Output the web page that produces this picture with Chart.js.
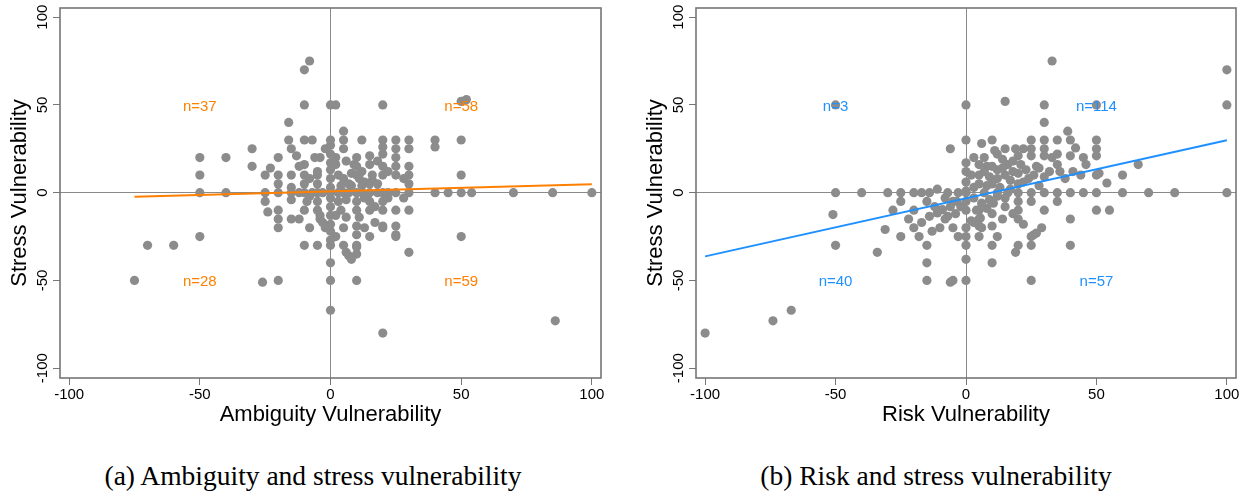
<!DOCTYPE html>
<html><head><meta charset="utf-8">
<script src="https://cdn.jsdelivr.net/npm/chart.js@4/dist/chart.umd.min.js"></script>
<style>
html,body{margin:0;padding:0;background:#fff;width:1248px;height:493px;overflow:hidden;position:relative}
canvas{position:absolute;top:0}
#c1{left:0}
#c2{left:636px}
.cap{position:absolute;top:460px;width:600px;font-family:"Liberation Serif","Times New Roman",serif;font-size:27.5px;line-height:32px;color:#000;text-align:center;white-space:nowrap}
</style></head><body>
<canvas id="c1" width="620" height="445"></canvas>
<canvas id="c2" width="612" height="445"></canvas>
<div class="cap" style="left:13px">(a) Ambiguity and stress vulnerability</div>
<div class="cap" style="left:636px">(b) Risk and stress vulnerability</div>
<script>
const xTicks = [-100, -50, 0, 50, 100];
const yTicks = [-100, -50, 0, 50, 100];

const ambX = [-75,-70,-60,-50,-50,-50,-50,-40,-40,-30,-30,-26,-20,-25,-23,-20,-20,-25,-25,-24,-20,-20,-20,-16,-16,-15,-13,-15,-15,-15,-15,-10,-8,-10,-10,-7,-10,-10,-5,0,
  2,20,0,5,5,12,20,20,25,25,30,30,40,40,50,50,52,50,30,30,30,40,45,50,54,70,85,100,25,30,
  50,86,20,0,0,0,10,30,0,5,10,6,8,10,25,25,20,20,-10,-10,-10,-6,-4,-5,0,0,0,0,0,0,
  -2,2,2,9,10,8,10,11,13,15,15,16,16,18,20,20,20,4,8,12,15,-20,-10,-5,0,3,5,7,10,12,
  15,18,20,22,25,30,-12,-7,-3,-9,-5,-5,-4,-3,-2,0,0,0,0,0,0,7,10,10,10,17,20,25,6,4,
  6,10,10,15,15,20,-4,2,11,3,5,2,-8,13,17,22,28,-5,5,3,5,7,12,18,22,25,25,25,-8,-12,
  -5,6,10,28,-20,-8,-12,13,15,-15];
const ambY = [-50,-30,-30,-25,20,10,0,20,0,25,15,-51,-50,10,14,20,10,0,-5,-11,-10,-15,-20,40,30,25,21,10,3,-4,0,70,75,50,30,30,-10,-30,-30,50,
  50,50,30,35,30,30,30,26,30,25,30,25,30,26,30,52,53,10,15,10,5,0,0,0,0,0,0,0,-10,-10,
  -25,-73,-80,-40,-50,-67,-50,-34,-30,-30,-30,-34,-38,-35,-24,-19,-19,-10,16,10,5,20,20,10,27,22,17,13,8,3,
  25,20,16,16,15,11,10,8,6,21,16,10,7,18,15,10,22,4,4,4,5,0,0,0,0,0,0,0,0,0,
  0,0,0,0,0,0,0,0,0,-5,-5,-10,-15,-17,-20,-3,-8,-13,-18,-22,-27,-36,-31,-19,-24,-17,-20,-25,-4,-10,
  -14,-5,-10,-5,-10,-5,-13,-13,-14,-5,-20,-25,-2,-3,-8,-3,-3,12,25,10,8,5,12,5,12,10,15,20,8,15,
  5,18,20,8,5,-20,-15,-20,-25,-15];

const riskX = [-100,-74,-67,-51,-50,-50,-50,-40,-30,-25,-25,-34,-31,-25,-20,-17,-20,-17,-14,-11,-15,-15,-15,-15,-14,-11,-9,-10,-7,-10.5,-6,-5,0,0,0,10,10,25,40,19,
  20,25,25,27,29,40,50,55,5,-5,0,0,0,5,5,14,20,20,25,30,35,-6,0,15,30,30,33,100,100,100,
  50,50,50,50,50,50,54,60,66,60,70,80,40,45,40,39,40,42,46,41,44,35,35,30,30,30,25,25,25,27,
  28,20,21,20,22,15,12,14,16,12,15,17,10,6,0,0,0,0,0,5,8,5,9,5,8,51,-7,-3,0,7,
  12,16,20,25,30,35,-2,-3.5,0,4,6,5.5,8,9,10.5,12,2,3,5,6,10,20,26,10,15,3,-5,-8,15,18,
  22,12,2,3,7,10,12,18,22,13,17,3,10,18,24,28,32,35,38,7,11,14,19,23,26,33,36,20,30,45,
  -20,-12,-22,-18,-8,-13,-4,-28,-6,-3];
const riskY = [-80,-73,-67,-12.5,-30,50,0,0,0,0,-5,-34,-21,-25,-20,-17,0,0,0,2,-5,-30,-40,-50,-13.5,-11.6,-9.7,-20,-13.5,-10,-51,-50,-50,-38,-30,-40,-30,-50,-30,-34,
  -30,-30,-25,-23,-20,-15,-10,-10,-25,-20,-20,-25,-10,-10,-15,-15,-15,-10,-5,-10,-5,25,50,52,50,40,75,70,50,0,
  50,30,25,21,10,0,5.5,10,16,0,0,0,0,0,21,35,30,25.5,16,12,10,30,16,30,21,9,30,25,21,15,
  14,21,16,11,6,25,22,19,16,13,10,7,30,28,30,17,12,6,1,16,15,10,9,5,4,11,0,0,0,0,
  0,0,0,0,0,0,-8,-5,-5,-10,-6,-14.5,-9,-4,-6,-2,-16,-17,-19,-20,-19,-5,-24,-12,-8,-3,-5,-3,-3,-12,
  -18,-25,10,20,20,5,8,12,25,3,2,3,15,18,8,4,12,22,8,12,24,14,25,13,10,20,12,5,25,20,
  -10,-8,-15,-25,-15,-22,-12,-10,-8,-25];

const ambFitX = [-75, 100];
const ambFitY = [-2.4, 4.8];
const riskFitX = [-100, 100];
const riskFitY = [-36.3, 29.8];

const quadX = [-50, 50, -50, 50];
const quadY = [49, 49, -51, -51];
const ambLabels = ['n=37', 'n=58', 'n=28', 'n=59'];
const riskLabels = ['n=3', 'n=114', 'n=40', 'n=57'];

const FONT = 'Liberation Sans';
const AXIS_GRAY = '#767676';

const framePlugin = {
  id: 'frame',
  beforeDatasetsDraw(chart) {
    const {ctx, chartArea: a} = chart;
    ctx.save();
    ctx.strokeStyle = AXIS_GRAY;
    ctx.lineWidth = 1.6;
    ctx.strokeRect(a.left, a.top, a.right - a.left, a.bottom - a.top);
    ctx.restore();
  }
};
const quadPlugin = {
  id: 'quad',
  afterDatasetsDraw(chart, args, opts) {
    const {ctx, scales: {x, y}} = chart;
    ctx.save();
    ctx.font = '15px "' + FONT + '"';
    ctx.fillStyle = opts.color;
    ctx.textAlign = 'center';
    ctx.textBaseline = 'middle';
    opts.labels.forEach((t, i) => ctx.fillText(t, x.getPixelForValue(quadX[i]), y.getPixelForValue(quadY[i])));
    ctx.restore();
  }
};

function makeChart(id, xs, ys, fx, fy, color, labels, xTitle, padRight) {
  const gridColor = c => (c.tick && c.tick.value === 0) ? '#8a8a8a' : 'rgba(0,0,0,0)';
  return new Chart(document.getElementById(id), {
    type: 'scatter',
    data: {
      datasets: [
        {type: 'line', data: fx.map((v, i) => ({x: v, y: fy[i]})), borderColor: color, borderWidth: 2,
         pointRadius: 0, fill: false, order: 0},
        {data: xs.map((v, i) => ({x: v, y: ys[i]})), backgroundColor: '#8c8c8c', borderWidth: 0,
         pointRadius: 4.6, pointHoverRadius: 4.6, order: 1}
      ]
    },
    options: {
      responsive: false, animation: false, devicePixelRatio: 1,
      layout: {padding: {left: 0, top: 8, right: padRight, bottom: 0}},
      plugins: {legend: {display: false}, tooltip: {enabled: false}, quad: {labels: labels, color: color}},
      scales: {
        x: {
          type: 'linear', min: -103.5, max: 103.5,
          afterBuildTicks: s => { s.ticks = xTicks.map(v => ({value: v})); },
          afterFit: s => { s.height = 67; },
          grid: {color: gridColor, tickColor: AXIS_GRAY, tickLength: 7, lineWidth: 1},
          border: {display: false},
          ticks: {font: {family: FONT, size: 15}, color: '#000', padding: 1, autoSkip: false, maxRotation: 0, minRotation: 0},
          title: {display: true, text: xTitle, font: {family: FONT, size: 22}, color: '#000', padding: {top: 0, bottom: 17}}
        },
        y: {
          type: 'linear', min: -105.6, max: 105.2,
          afterBuildTicks: s => { s.ticks = yTicks.map(v => ({value: v})); },
          afterFit: s => { s.width = 60; },
          grid: {color: gridColor, tickColor: AXIS_GRAY, tickLength: 7, lineWidth: 1},
          border: {display: false},
          ticks: {font: {family: FONT, size: 15}, color: '#000', padding: -5, autoSkip: false,
                  minRotation: 90, maxRotation: 90, crossAlign: 'center'},
          title: {display: true, text: 'Stress Vulnerability', font: {family: FONT, size: 22}, color: '#000', padding: {top: 7, bottom: 0}}
        }
      }
    },
    plugins: [framePlugin, quadPlugin]
  });
}

makeChart('c1', ambX, ambY, ambFitX, ambFitY, '#ff8000', ambLabels, 'Ambiguity Vulnerability', 19);
makeChart('c2', riskX, riskY, riskFitX, riskFitY, '#1e90ff', riskLabels, 'Risk Vulnerability', 12);
</script>
</body></html>
